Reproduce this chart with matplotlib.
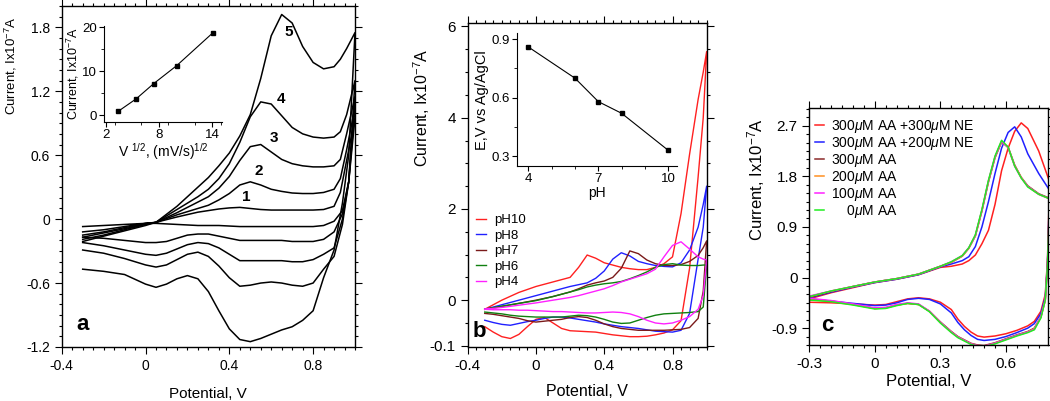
import matplotlib
matplotlib.use("Agg")
import matplotlib.pyplot as plt
from matplotlib.ticker import MultipleLocator, FuncFormatter

plt.rcParams['font.family'] = ['Liberation Sans', 'DejaVu Sans']
plt.rcParams['mathtext.fontset'] = 'custom'
plt.rcParams['mathtext.rm'] = 'Liberation Sans'
plt.rcParams['mathtext.it'] = 'Liberation Sans:italic'
plt.rcParams['mathtext.bf'] = 'Liberation Sans:bold'

# ---------------- panel a : scan rate series ----------------
a_fwd_E = [-0.3, -0.2, -0.1, 0.0, 0.05, 0.15, 0.25, 0.3, 0.35, 0.4, 0.45, 0.5,
           0.55, 0.6, 0.65, 0.7, 0.75, 0.8, 0.85, 0.9, 0.93, 0.96, 1.0]
a_fwd_1 = [-0.12, -0.1, -0.07, -0.04, -0.03, 0.02, 0.065, 0.08, 0.095, 0.105, 0.11, 0.1,
           0.09, 0.085, 0.085, 0.085, 0.085, 0.085, 0.09, 0.12, 0.25, 0.55, 0.95]
a_fwd_2 = [-0.15, -0.12, -0.08, -0.045, -0.03, 0.04, 0.1, 0.13, 0.18, 0.24, 0.32, 0.35,
           0.32, 0.28, 0.26, 0.245, 0.24, 0.24, 0.25, 0.28, 0.38, 0.65, 1.05]
a_fwd_3 = [-0.17, -0.13, -0.09, -0.05, -0.03, 0.06, 0.16, 0.21, 0.29, 0.4, 0.55, 0.68,
           0.7, 0.63, 0.56, 0.52, 0.5, 0.49, 0.49, 0.5, 0.56, 0.8, 1.15]
a_fwd_4 = [-0.19, -0.15, -0.1, -0.05, -0.03, 0.09, 0.21, 0.28, 0.38, 0.52, 0.72, 0.96,
           1.1, 1.08, 0.97, 0.86, 0.8, 0.77, 0.76, 0.77, 0.82, 0.98, 1.3]
a_fwd_5 = [-0.21, -0.16, -0.11, -0.06, -0.03, 0.12, 0.3, 0.39, 0.5, 0.62, 0.78, 0.98,
           1.32, 1.72, 1.92, 1.84, 1.62, 1.47, 1.41, 1.43, 1.5, 1.6, 1.75]

a_rev_E = [1.0, 0.97, 0.94, 0.9, 0.85, 0.8, 0.75, 0.7, 0.65, 0.6, 0.55, 0.5, 0.45,
           0.4, 0.35, 0.3, 0.25, 0.2, 0.15, 0.1, 0.05, 0.0, -0.1, -0.2, -0.3]
a_rev_1 = [0.95, 0.35, 0.08, -0.02, -0.06, -0.07, -0.07, -0.07, -0.07, -0.07, -0.07, -0.07, -0.07,
           -0.065, -0.06, -0.06, -0.06, -0.055, -0.05, -0.045, -0.04, -0.04, -0.05, -0.06, -0.07]
a_rev_2 = [1.05, 0.35, 0.05, -0.12, -0.19, -0.21, -0.21, -0.21, -0.2, -0.2, -0.2, -0.2, -0.2,
           -0.18, -0.16, -0.14, -0.14, -0.15, -0.18, -0.21, -0.22, -0.22, -0.2, -0.18, -0.17]
a_rev_3 = [1.15, 0.35, 0.0, -0.27, -0.33, -0.38, -0.4, -0.4, -0.39, -0.39, -0.39, -0.39, -0.39,
           -0.33, -0.27, -0.23, -0.22, -0.24, -0.28, -0.32, -0.34, -0.33, -0.29, -0.25, -0.22]
a_rev_4 = [1.3, 0.35, -0.05, -0.35, -0.47, -0.6, -0.63, -0.62, -0.6, -0.59, -0.6, -0.62, -0.63,
           -0.55, -0.44, -0.35, -0.31, -0.33, -0.38, -0.43, -0.45, -0.43, -0.37, -0.32, -0.29]
a_rev_5 = [1.75, 0.6, 0.15, -0.29, -0.55, -0.86, -0.95, -1.01, -1.04, -1.08, -1.12, -1.15, -1.13,
           -1.03, -0.86, -0.68, -0.56, -0.53, -0.56, -0.61, -0.64, -0.61, -0.52, -0.49, -0.47]
a_labels = ['1', '2', '3', '4', '5']
a_label_E = [0.46, 0.52, 0.593, 0.625, 0.665]
a_label_I = [0.21, 0.45, 0.76, 1.13, 1.76]

# inset a: peak current vs sqrt(scan rate)
ia_x = [3.4, 5.4, 7.4, 10.0, 14.1]
ia_y = [0.9, 3.7, 7.2, 11.3, 18.8]

# ---------------- panel b : pH series ----------------
b_fwd_E = [-0.3, -0.2, -0.1, 0.0, 0.1, 0.2, 0.25, 0.3, 0.35, 0.4, 0.45, 0.5, 0.55,
           0.6, 0.65, 0.7, 0.75, 0.8, 0.85, 0.9, 0.95, 0.98, 1.0]
b_rev_E = [1.0, 0.98, 0.95, 0.9, 0.85, 0.8, 0.75, 0.7, 0.65, 0.6, 0.55, 0.5, 0.45, 0.4,
           0.35, 0.3, 0.25, 0.2, 0.15, 0.1, 0.05, 0.0, -0.05, -0.1, -0.15, -0.2, -0.25, -0.3]
b_fwd_pH10 = [-0.2, 0.0, 0.17, 0.3, 0.4, 0.5, 0.72, 0.99, 0.92, 0.82, 0.77, 0.72, 0.69,
              0.67, 0.67, 0.72, 0.8, 0.95, 1.9, 3.2, 4.4, 5.0, 5.45]
b_rev_pH10 = [5.45, 4.0, 2.7, 0.7, -0.45, -0.65, -0.72, -0.76, -0.79, -0.8, -0.8, -0.78, -0.76, -0.73,
              -0.7, -0.69, -0.68, -0.67, -0.62, -0.5, -0.38, -0.42, -0.58, -0.75, -0.84, -0.8, -0.7, -0.58]
b_fwd_pH8 = [-0.2, -0.1, 0.0, 0.1, 0.2, 0.3, 0.34, 0.38, 0.48, 0.64, 0.9, 1.04, 0.97,
             0.85, 0.8, 0.76, 0.74, 0.73, 0.82, 1.1, 1.6, 2.1, 2.5]
b_rev_pH8 = [2.5, 1.6, 0.9, -0.29, -0.66, -0.7, -0.69, -0.68, -0.65, -0.62, -0.6, -0.58, -0.55, -0.52,
             -0.48, -0.45, -0.42, -0.39, -0.37, -0.37, -0.4, -0.44, -0.47, -0.51, -0.55, -0.53, -0.49, -0.44]
b_fwd_pH7 = [-0.2, -0.14, -0.07, 0.0, 0.08, 0.18, 0.25, 0.33, 0.38, 0.42, 0.5, 0.7, 1.08,
             1.02, 0.88, 0.8, 0.76, 0.76, 0.78, 0.85, 0.98, 1.15, 1.3]
b_rev_pH7 = [1.3, 0.2, -0.4, -0.6, -0.64, -0.65, -0.66, -0.66, -0.66, -0.66, -0.64, -0.62, -0.58, -0.52,
             -0.44, -0.38, -0.36, -0.38, -0.42, -0.44, -0.46, -0.48, -0.45, -0.4, -0.37, -0.34, -0.31, -0.29]
b_fwd_pH6 = [-0.2, -0.13, -0.07, -0.01, 0.08, 0.18, 0.23, 0.29, 0.33, 0.36, 0.38, 0.41, 0.47,
             0.54, 0.62, 0.72, 0.78, 0.8, 0.77, 0.76, 0.76, 0.77, 0.77]
b_rev_pH6 = [0.77, -0.15, -0.25, -0.27, -0.28, -0.29, -0.3, -0.33, -0.38, -0.44, -0.5, -0.51, -0.48, -0.42,
             -0.37, -0.34, -0.33, -0.35, -0.37, -0.37, -0.37, -0.37, -0.36, -0.35, -0.33, -0.3, -0.28, -0.26]
b_fwd_pH4 = [-0.2, -0.16, -0.11, -0.06, 0.0, 0.06, 0.1, 0.15, 0.2, 0.25, 0.32, 0.4, 0.46,
             0.52, 0.58, 0.68, 0.95, 1.2, 1.28, 1.12, 0.95, 0.9, 0.88]
b_rev_pH4 = [0.88, 0.1, -0.2, -0.36, -0.44, -0.5, -0.52, -0.5, -0.44, -0.36, -0.3, -0.27, -0.26, -0.27,
             -0.28, -0.28, -0.27, -0.26, -0.25, -0.25, -0.24, -0.23, -0.22, -0.22, -0.21, -0.21, -0.21, -0.2]
b_names = ['pH10', 'pH8', 'pH7', 'pH6', 'pH4']
b_colors = ['#ff2020', '#2020ff', '#7a1a1a', '#108010', '#ff20ff']

# inset b: peak potential vs pH
ib_pH = [4, 6, 7, 8, 10]
ib_E = [0.86, 0.70, 0.58, 0.52, 0.33]

# ---------------- panel c : ascorbic acid interference ----------------
c_fwd_E = [-0.3, -0.2, -0.1, 0.0, 0.1, 0.2, 0.3, 0.35, 0.4, 0.43, 0.46, 0.49, 0.52,
           0.55, 0.58, 0.61, 0.64, 0.67, 0.7, 0.75, 0.8]
c_rev_E = [0.8, 0.79, 0.78, 0.76, 0.73, 0.7, 0.65, 0.6, 0.55, 0.5, 0.47, 0.44, 0.41,
           0.38, 0.35, 0.3, 0.25, 0.2, 0.15, 0.1, 0.05, 0.0, -0.1, -0.2, -0.3]
c_fwd_ne300 = [-0.38, -0.27, -0.18, -0.09, -0.03, 0.05, 0.18, 0.2, 0.24, 0.3, 0.4, 0.6, 0.84,
               1.3, 1.9, 2.3, 2.6, 2.75, 2.65, 2.25, 1.7]
c_rev_ne300 = [1.7, 0.3, -0.3, -0.6, -0.78, -0.86, -0.94, -1.0, -1.04, -1.06, -1.04, -0.97, -0.87,
               -0.74, -0.57, -0.44, -0.38, -0.36, -0.38, -0.43, -0.48, -0.49, -0.47, -0.45, -0.44]
c_fwd_ne200 = [-0.36, -0.26, -0.17, -0.09, -0.03, 0.05, 0.19, 0.24, 0.3, 0.37, 0.55, 0.9, 1.35,
               1.85, 2.3, 2.58, 2.68, 2.5, 2.2, 1.85, 1.55]
c_rev_ne200 = [1.55, 0.25, -0.35, -0.64, -0.82, -0.9, -0.98, -1.05, -1.1, -1.12, -1.1, -1.03, -0.93,
               -0.8, -0.63, -0.47, -0.39, -0.37, -0.39, -0.45, -0.49, -0.5, -0.46, -0.42, -0.38]
c_fwd_aa300 = [-0.35, -0.25, -0.16, -0.08, -0.02, 0.06, 0.2, 0.27, 0.38, 0.52, 0.74, 1.18, 1.7,
               2.13, 2.41, 2.32, 2.0, 1.78, 1.63, 1.49, 1.41]
c_rev_aa300 = [1.41, 0.2, -0.4, -0.7, -0.9, -0.96, -1.02, -1.09, -1.16, -1.21, -1.2, -1.17, -1.11,
               -1.05, -0.96, -0.79, -0.6, -0.48, -0.46, -0.49, -0.54, -0.55, -0.48, -0.42, -0.39]
c_fwd_aa200 = [-0.34, -0.24, -0.16, -0.08, -0.02, 0.06, 0.2, 0.27, 0.38, 0.52, 0.74, 1.19, 1.71,
               2.14, 2.42, 2.31, 1.99, 1.78, 1.62, 1.48, 1.4]
c_rev_aa200 = [1.4, 0.2, -0.4, -0.7, -0.91, -0.97, -1.03, -1.1, -1.17, -1.22, -1.21, -1.18, -1.12,
               -1.06, -0.97, -0.8, -0.6, -0.48, -0.46, -0.49, -0.54, -0.55, -0.48, -0.42, -0.4]
c_fwd_aa100 = [-0.33, -0.24, -0.16, -0.08, -0.02, 0.06, 0.2, 0.28, 0.39, 0.53, 0.75, 1.2, 1.72,
               2.15, 2.42, 2.31, 1.98, 1.77, 1.62, 1.48, 1.4]
c_rev_aa100 = [1.4, 0.2, -0.4, -0.7, -0.92, -0.97, -1.03, -1.1, -1.17, -1.22, -1.21, -1.18, -1.12,
               -1.06, -0.97, -0.8, -0.6, -0.47, -0.45, -0.48, -0.53, -0.54, -0.47, -0.41, -0.37]
c_fwd_aa0 = [-0.34, -0.24, -0.16, -0.08, -0.02, 0.06, 0.2, 0.28, 0.39, 0.53, 0.76, 1.21, 1.73,
             2.16, 2.44, 2.32, 1.98, 1.77, 1.61, 1.48, 1.4]
c_rev_aa0 = [1.4, 0.2, -0.4, -0.72, -0.93, -0.98, -1.04, -1.11, -1.18, -1.23, -1.22, -1.19, -1.13,
             -1.07, -0.98, -0.81, -0.61, -0.48, -0.46, -0.5, -0.55, -0.56, -0.49, -0.43, -0.40]
c_names = ['300$\\mu$M AA +300$\\mu$M NE', '300$\\mu$M AA +200$\\mu$M NE', '300$\\mu$M AA',
           '200$\\mu$M AA', '100$\\mu$M AA', '    0$\\mu$M AA']
c_colors = ['#ff2020', '#2020ff', '#8b2a2a', '#ff9020', '#ff20ff', '#20ee20']


def fmt(v, pos):
    if abs(v) < 1e-9:
        return '0'
    return f'{v:g}'


def frame(ax, xmaj, xmin, ymaj, ymin, size=10):
    ax.xaxis.set_major_locator(MultipleLocator(xmaj))
    ax.xaxis.set_minor_locator(MultipleLocator(xmin))
    ax.yaxis.set_major_locator(MultipleLocator(ymaj))
    ax.yaxis.set_minor_locator(MultipleLocator(ymin))
    ax.xaxis.set_major_formatter(FuncFormatter(fmt))
    ax.yaxis.set_major_formatter(FuncFormatter(fmt))
    ax.tick_params(which='both', direction='out', top=True, right=True, labelsize=size, width=0.8)
    ax.tick_params(which='major', length=5)
    ax.tick_params(which='minor', length=2.5)
    for s in ax.spines.values():
        s.set_linewidth(1.0)


def inset_frame(ax):
    ax.spines['top'].set_visible(False)
    ax.spines['right'].set_visible(False)
    ax.tick_params(which='both', direction='out', labelsize=9.5, pad=1.5)
    ax.tick_params(which='major', length=3.5)
    ax.tick_params(which='minor', length=2)


fig = plt.figure(figsize=(10.5, 4.01), dpi=100)

# ---- a ----
ax_a = fig.add_axes([0.0588, 0.1347, 0.2793, 0.8504])
for f, r in [(a_fwd_1, a_rev_1), (a_fwd_2, a_rev_2), (a_fwd_3, a_rev_3),
             (a_fwd_4, a_rev_4), (a_fwd_5, a_rev_5)]:
    ax_a.plot(a_fwd_E + a_rev_E, f + r, color='black', lw=1.1)
for t, e, i in zip(a_labels, a_label_E, a_label_I):
    ax_a.text(e, i, t, fontsize=11, fontweight='bold', ha='left', va='center')
ax_a.set_xlim(-0.4, 1.0)
ax_a.set_ylim(-1.2, 2.0)
frame(ax_a, 0.4, 0.05, 0.6, 0.1, 10)
ax_a.set_xlabel('Potential, V', fontsize=11, labelpad=10)
ax_a.set_ylabel('Current, Ix10$^{-7}$A', fontsize=9.5)
ax_a.yaxis.set_label_coords(-0.146, 0.825)
ax_a.text(0.05, 0.05, 'a', transform=ax_a.transAxes, fontsize=16, fontweight='bold')

ins_a = fig.add_axes([0.0993, 0.6965, 0.1121, 0.2387])
ins_a.plot(ia_x, ia_y, color='black', lw=0.8, marker='s', ms=2.5)
ins_a.set_xlim(1.8, 15.1)
ins_a.set_ylim(-1.5, 20.3)
ins_a.set_xticks([2, 8, 14])
ins_a.set_yticks([0, 10, 20])
ins_a.xaxis.set_minor_locator(MultipleLocator(3))
ins_a.yaxis.set_minor_locator(MultipleLocator(5))
inset_frame(ins_a)
ins_a.set_xlabel('V $^{1/2}$, (mV/s)$^{1/2}$', fontsize=10, labelpad=0)
ins_a.set_ylabel('Current, Ix10$^{-7}$A', fontsize=9, labelpad=1)

# ---- b ----
ax_b = fig.add_axes([0.4454, 0.1354, 0.2276, 0.8065])
b_data = [(b_fwd_pH10, b_rev_pH10), (b_fwd_pH8, b_rev_pH8), (b_fwd_pH7, b_rev_pH7),
          (b_fwd_pH6, b_rev_pH6), (b_fwd_pH4, b_rev_pH4)]
for (f, r), name, col in zip(b_data, b_names, b_colors):
    ax_b.plot(b_fwd_E + b_rev_E, f + r, color=col, lw=1.0, label=name)
ax_b.set_xlim(-0.4, 1.0)
ax_b.set_ylim(-1.02, 6.07)
frame(ax_b, 0.4, 0.05, 2, 0.5, 11)
ax_b.set_yticks([-1, 0, 2, 4, 6], ['-0.1', '0', '2', '4', '6'])
ax_b.set_xlabel('Potential, V', fontsize=11.5, labelpad=8)
ax_b.set_ylabel('Current, Ix10$^{-7}$A', fontsize=11.5)
ax_b.yaxis.set_label_coords(-0.151, 0.74)
ax_b.legend(loc='upper left', bbox_to_anchor=(0.0, 0.435), frameon=False, fontsize=9.5,
            handlelength=0.8, handletextpad=0.6, labelspacing=0.25, borderaxespad=0.2)
ax_b.text(0.02, 0.03, 'b', transform=ax_b.transAxes, fontsize=16, fontweight='bold')

ins_b = fig.add_axes([0.4921, 0.586, 0.1524, 0.3309])
ins_b.plot(ib_pH, ib_E, color='black', lw=0.8, marker='s', ms=2.5)
ins_b.set_xlim(3.5, 10.36)
ins_b.set_ylim(0.25, 0.93)
ins_b.set_xticks([4, 7, 10])
ins_b.set_yticks([0.3, 0.6, 0.9])
ins_b.xaxis.set_minor_locator(MultipleLocator(1))
ins_b.yaxis.set_minor_locator(MultipleLocator(0.15))
inset_frame(ins_b)
ins_b.set_xlabel('pH', fontsize=10, labelpad=1)
ins_b.set_ylabel('E,V vs Ag/AgCl', fontsize=10.5, labelpad=2)

# ---- c ----
ax_c = fig.add_axes([0.7708, 0.1397, 0.2276, 0.5903])
c_data = [(c_fwd_ne300, c_rev_ne300), (c_fwd_ne200, c_rev_ne200), (c_fwd_aa300, c_rev_aa300),
          (c_fwd_aa200, c_rev_aa200), (c_fwd_aa100, c_rev_aa100), (c_fwd_aa0, c_rev_aa0)]
for (f, r), name, col in zip(c_data, c_names, c_colors):
    ax_c.plot(c_fwd_E + c_rev_E, f + r, color=col, lw=1.1, label=name)
ax_c.set_xlim(-0.3, 0.794)
ax_c.set_ylim(-1.2, 3.01)
frame(ax_c, 0.3, 0.05, 0.9, 0.15, 11)
ax_c.set_xlabel('Potential, V', fontsize=12, labelpad=2)
ax_c.set_ylabel('Current, Ix10$^{-7}$A', fontsize=12)
ax_c.yaxis.set_label_coords(-0.177, 0.70)
ax_c.legend(loc='upper left', bbox_to_anchor=(-0.01, 0.996), frameon=False, fontsize=10,
            handlelength=0.6, handletextpad=0.5, labelspacing=0.0, borderaxespad=0.2)
ax_c.text(0.05, 0.06, 'c', transform=ax_c.transAxes, fontsize=16, fontweight='bold')

fig.savefig('out.png', dpi=100)
